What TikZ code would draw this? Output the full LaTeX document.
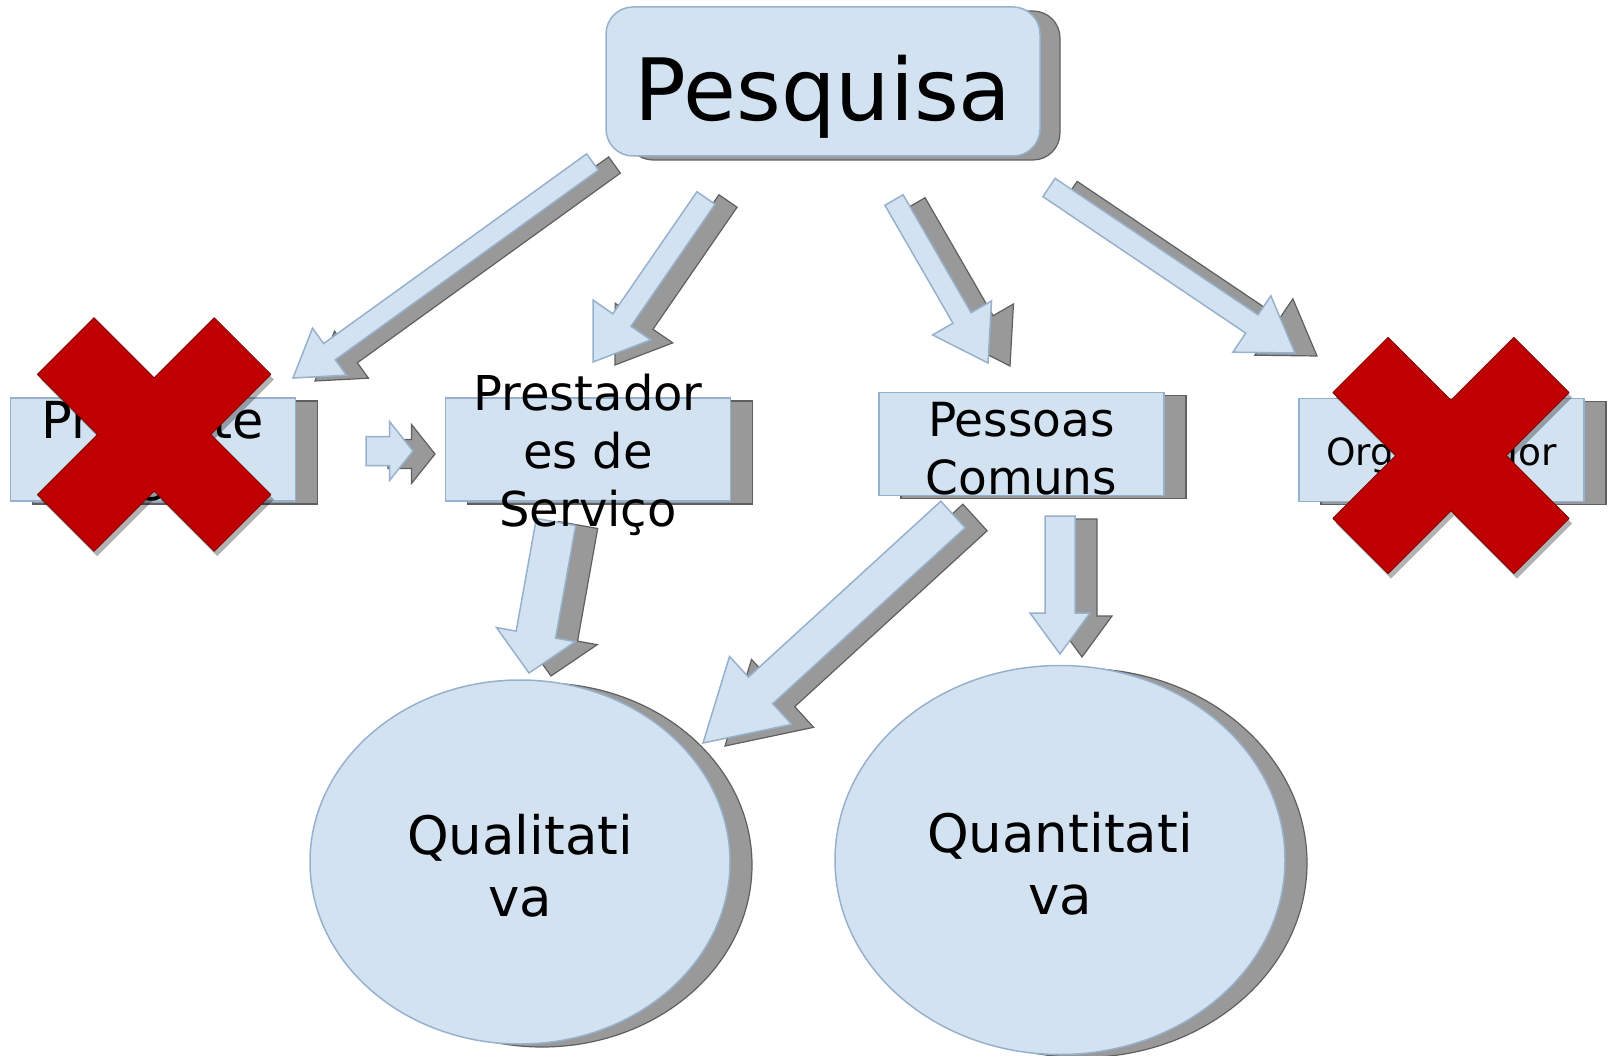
\documentclass[tikz,border=0pt]{standalone}
\usepackage{fontspec}
\setmainfont{DejaVu Sans}
\usetikzlibrary{calc,shadows,shapes.geometric}
\definecolor{boxfill}{RGB}{211,226,241}
\definecolor{boxline}{RGB}{150,177,205}
\definecolor{shdgray}{RGB}{153,153,153}
\definecolor{shdline}{RGB}{95,95,95}
\definecolor{xred}{RGB}{192,0,0}
\definecolor{xedge}{RGB}{140,0,0}

\newcommand{\fsz}[2]{\fontsize{#1}{#2}\selectfont}
% tail, tip, half shaft, half head, head length
\newcommand{\blockarrow}[5]{%
  \coordinate (neck) at ($(#2)!#5pt!(#1)$);
  \draw[arrowbody] ($(#1)!#3pt!90:(#2)$) -- ($(neck)!#3pt!-90:(#1)$)
    -- ($(neck)!#4pt!-90:(#1)$) -- (#2) -- ($(neck)!#4pt!90:(#1)$)
    -- ($(neck)!#3pt!90:(#1)$) -- ($(#1)!#3pt!-90:(#2)$) -- cycle;
}
% centre x, centre y, half width, half length
\newcommand{\crossmark}[4]{%
  \begin{scope}[shift={(#1,#2)}, rotate=45]
    \draw[xmark] (#3,#3) -- (#4,#3) -- (#4,-#3) -- (#3,-#3) -- (#3,-#4) -- (-#3,-#4)
      -- (-#3,-#3) -- (-#4,-#3) -- (-#4,#3) -- (-#3,#3) -- (-#3,#4) -- (#3,#4) -- cycle;
  \end{scope}
}

\begin{document}
\begin{tikzpicture}[x=1pt, y=-1pt,
    shd/.style={general shadow={shadow xshift=22pt, shadow yshift=-3pt, fill=shdgray, draw=shdline, line width=1.2pt}},
    topbox/.style={draw=boxline, fill=boxfill, line width=1.5pt, rounded corners=27pt, minimum width=434pt, minimum height=149pt, inner sep=0pt,
      general shadow={shadow xshift=20pt, shadow yshift=-4pt, fill=shdgray, draw=shdline, line width=1.2pt}},
    box/.style={draw=boxline, fill=boxfill, line width=1.5pt, minimum width=285pt, minimum height=103pt, inner sep=0pt, shd},
    oval/.style={ellipse, draw=boxline, fill=boxfill, line width=1.5pt, inner sep=0pt, shd},
    arrowbody/.style={draw=boxline, fill=boxfill, line width=1.5pt, line join=miter, shd},
    xmark/.style={fill=xred, draw=xedge, line width=1pt, line join=round,
      general shadow={shadow xshift=3pt, shadow yshift=-5pt, fill=black, opacity=.3}},
    txt/.style={anchor=base, align=center, inner sep=0pt}]
  \useasboundingbox (0,0) rectangle (1609,1056);

  % shapes
  \node[topbox] (pesquisa) at (823,81.5) {};
  \node[box] (presid) at (153,449.5) {};
  \node[box] (prest) at (588,449.5) {};
  \node[box] (pessoas) at (1021.5,444) {};
  \node[box] (organiz) at (1441.5,450) {};
  \node[oval, minimum width=420pt, minimum height=364pt] (quali) at (520,862) {};
  \node[oval, minimum width=450pt, minimum height=389pt] (quanti) at (1060,860) {};

  % arrow ends
  \coordinate (pq-pr) at (592.5,162);   \coordinate (pr-in) at (293,378);
  \coordinate (pq-ps) at (706,198);     \coordinate (ps-in) at (593,362);
  \coordinate (pq-pc) at (894,200);     \coordinate (pc-in) at (988,363);
  \coordinate (pq-or) at (1049,187.5);  \coordinate (or-in) at (1295,353);
  \coordinate (pr-ps) at (366,451);     \coordinate (ps-in2) at (413,451);
  \coordinate (ps-ql) at (556,522);     \coordinate (ql-in) at (529,673);
  \coordinate (pc-ql) at (953,514.5);   \coordinate (ql-in2) at (703,743);
  \coordinate (pc-qt) at (1060,516);    \coordinate (qt-in) at (1060,654);

  \blockarrow{pq-pr}{pr-in}{10}{29}{45}
  \blockarrow{pq-ps}{ps-in}{11}{35}{51}
  \blockarrow{pq-pc}{pc-in}{10.5}{34}{52}
  \blockarrow{pq-or}{or-in}{11}{34}{52}
  \blockarrow{pr-ps}{ps-in2}{14.5}{29.5}{23.5}
  \blockarrow{ps-ql}{ql-in}{20}{40}{39}
  \blockarrow{pc-ql}{ql-in2}{18}{46}{78}
  \blockarrow{pc-qt}{qt-in}{15}{30}{41}

  % texts (base = last line)
  \node[txt, font=\fsz{86}{100}] (pesquisa-t) at (823,121) {Pesquisa};
  \node[txt, font=\fsz{51}{62}] (presid-t) at (153,500) {Presente\\s};
  \node[txt, font=\fsz{48}{58}] (prest-t) at (588,526) {Prestador\\es de\\Serviço};
  \node[txt, font=\fsz{47}{58}] (pessoas-t) at (1021.5,494) {Pessoas\\Comuns};
  \node[txt, font=\fsz{37.5}{45}] (organiz-t) at (1441.5,465) {Organizador};
  \node[txt, font=\fsz{53}{62}] (quali-t) at (520,916) {Qualitati\\va};
  \node[txt, font=\fsz{53}{62}] (quanti-t) at (1060,914) {Quantitati\\va};

  % crossed out
  \crossmark{154.2}{434.5}{40}{125}
  \crossmark{1451}{455.5}{39}{128}
\end{tikzpicture}
\end{document}
